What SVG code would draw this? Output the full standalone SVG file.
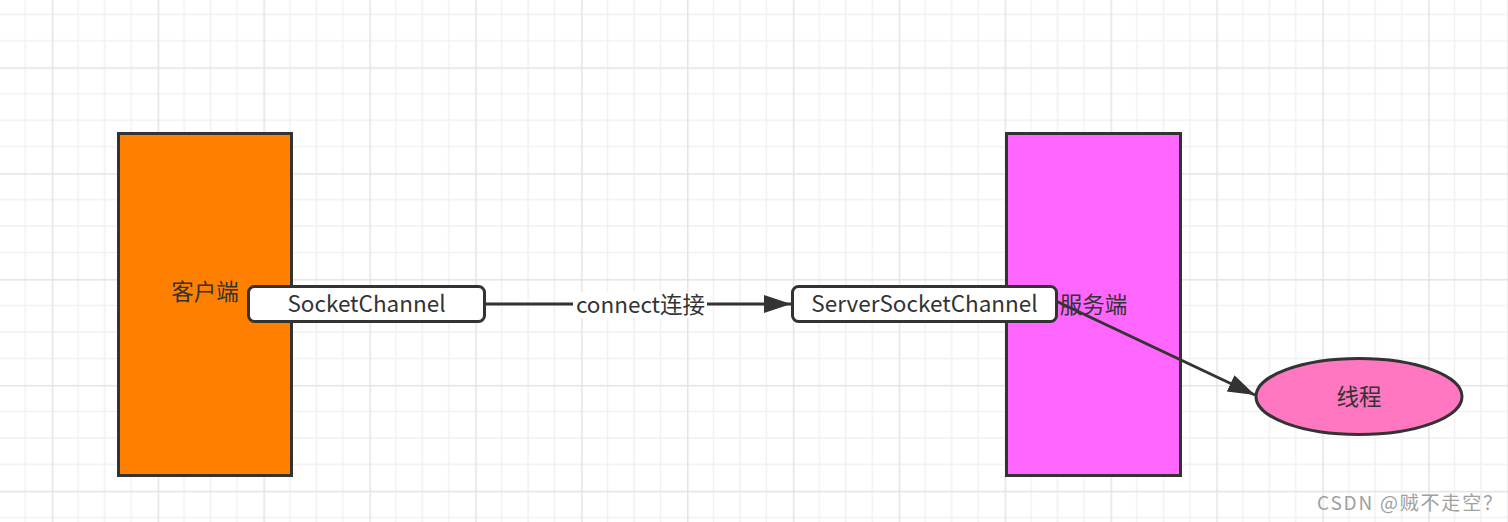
<svg xmlns="http://www.w3.org/2000/svg" width="1508" height="522" viewBox="0 0 1508 522">
  <style>
    .lbl { font-family: "Noto Sans CJK SC", "Open Sans", sans-serif; font-size: 22.5px; fill: #333333; text-anchor: middle; }
    .box { stroke: #333333; stroke-width: 3; }
    .edge { stroke: #333333; stroke-width: 3; fill: none; }
    .wm { font-family: "Noto Sans CJK SC", sans-serif; font-size: 19px; letter-spacing: 1.8px; fill: #a0a0a0; }
  </style>
  <defs>
    <pattern id="grid" patternUnits="userSpaceOnUse" x="51.7" y="67.3" width="105.88" height="105.88">
      <path d="M26.47 0V105.88M52.94 0V105.88M79.41 0V105.88M0 26.47H105.88M0 52.94H105.88M0 79.41H105.88" stroke="#f1f1f1" stroke-width="1.5" fill="none"/>
      <path d="M0.75 0V105.88M0 0.75H105.88" stroke="#e4e4e4" stroke-width="1.5" fill="none"/>
    </pattern>
    <marker id="arrow" markerUnits="userSpaceOnUse" markerWidth="30" markerHeight="20" refX="27" refY="9" orient="auto">
      <path d="M0 0 L27 9 L0 18 Z" fill="#333333"/>
    </marker>
  </defs>
  <rect width="1508" height="522" fill="#ffffff"/>
  <rect width="1508" height="522" fill="url(#grid)"/>

  <g id="client">
    <rect class="box" x="118.5" y="133.5" width="173" height="342" fill="#ff8000"/>
    <text class="lbl" x="205" y="300">客户端</text>
  </g>
  <g id="server">
    <rect class="box" x="1006.5" y="133.5" width="174" height="342" fill="#ff66ff"/>
    <text class="lbl" x="1093.5" y="313">服务端</text>
  </g>

  <g id="connectors">
    <path class="edge" d="M1057 301.5 L1255 395" marker-end="url(#arrow)"/>
    <path class="edge" d="M485 304 L791 304" marker-end="url(#arrow)"/>
    <rect x="573" y="292" width="134" height="26" fill="#ffffff"/>
    <text class="lbl" x="640.5" y="313">connect连接</text>
  </g>

  <g id="socketchannel">
    <rect class="box" x="248.5" y="286.5" width="236" height="35" rx="6" fill="#ffffff"/>
    <text class="lbl" x="366.5" y="312">SocketChannel</text>
  </g>
  <g id="serversocketchannel">
    <rect class="box" x="792.5" y="286.5" width="264" height="35" rx="6" fill="#ffffff"/>
    <text class="lbl" x="924.5" y="312">ServerSocketChannel</text>
  </g>
  <g id="thread">
    <ellipse class="box" cx="1359" cy="396.5" rx="103" ry="38" fill="#ff77c0"/>
    <text class="lbl" x="1359" y="404.5">线程</text>
  </g>

  <text class="wm" x="1317" y="510">CSDN @贼不走空？</text>
</svg>
